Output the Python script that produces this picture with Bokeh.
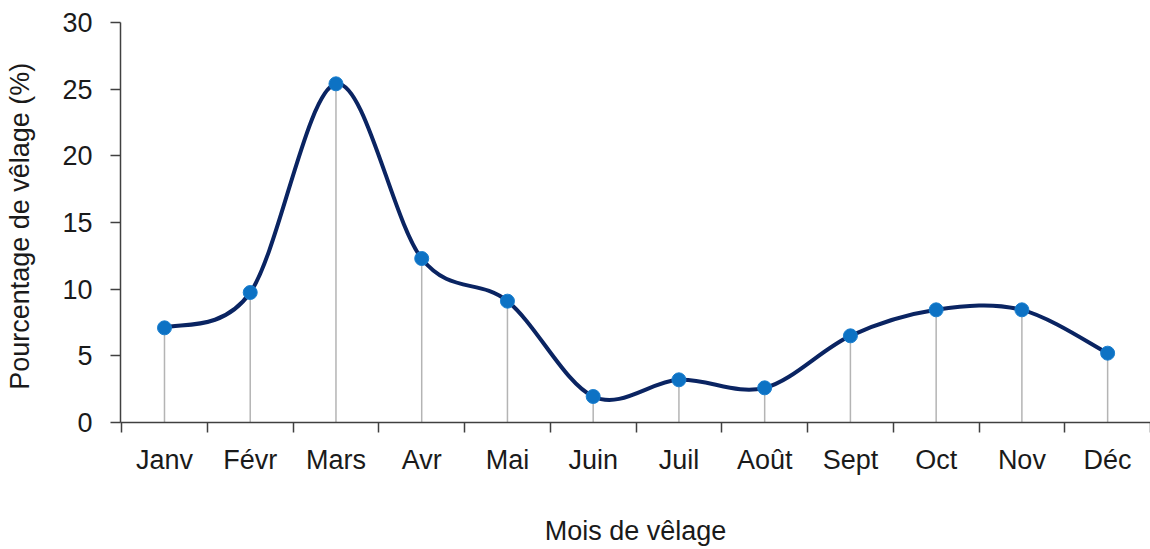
from bokeh.plotting import figure
from bokeh.models import FixedTicker, ColumnDataSource, Range1d
from bokeh.embed import file_html
from bokeh.resources import INLINE

months = ["Janv", "Févr", "Mars", "Avr", "Mai", "Juin", "Juil", "Août", "Sept", "Oct", "Nov", "Déc"]
values = [7.1, 9.75, 25.4, 12.3, 9.1, 1.95, 3.2, 2.6, 6.5, 8.45, 8.45, 5.2]
y_ticks = [0, 5, 10, 15, 20, 25, 30]

FONT = "Liberation Sans"
FS = "27px"
n = len(months)
xs = list(range(n))

# Excel-like smoothed line: cubic Bezier segments (Catmull-Rom control points)
def pt(i):
    i = max(0, min(n - 1, i))
    return xs[i], values[i]

seg = dict(x0=[], y0=[], x1=[], y1=[], cx0=[], cy0=[], cx1=[], cy1=[])
for i in range(n - 1):
    xa, ya = pt(i - 1)
    xb, yb = pt(i)
    xc, yc = pt(i + 1)
    xd, yd = pt(i + 2)
    seg["x0"].append(xb); seg["y0"].append(yb)
    seg["x1"].append(xc); seg["y1"].append(yc)
    seg["cx0"].append(xb + (xc - xa) / 6); seg["cy0"].append(yb + (yc - ya) / 6)
    seg["cx1"].append(xc - (xd - xb) / 6); seg["cy1"].append(yc - (yd - yb) / 6)

p = figure(frame_width=1030, frame_height=400, output_backend="svg", toolbar_location=None,
           x_range=Range1d(-0.513, 11.5), y_range=Range1d(0, 30),
           min_border_left=120, min_border_top=22, min_border_right=0, min_border_bottom=120)
p.outline_line_color = None
p.grid.visible = False
p.background_fill_color = "white"
p.border_fill_color = "white"

src = ColumnDataSource(dict(x=xs, y=values, zero=[0] * n))
p.segment(x0="x", y0="zero", x1="x", y1="y", source=src, line_color="#b4b4b4", line_width=1.5)
p.bezier(source=ColumnDataSource(seg), x0="x0", y0="y0", x1="x1", y1="y1",
         cx0="cx0", cy0="cy0", cx1="cx1", cy1="cy1", line_color="#0a2462", line_width=4)
p.scatter("x", "y", source=src, size=14, fill_color="#0d72c4", line_color="#1a7fcf", line_width=1)

# x axis: labels at category centres, tick marks between categories
xa_ = p.xaxis[0]
xa_.ticker = FixedTicker(ticks=xs, minor_ticks=[i - 0.5 for i in range(n + 1)])
xa_.major_label_overrides = {i: m for i, m in enumerate(months)}
xa_.major_tick_out = 0
xa_.major_tick_in = 0
xa_.minor_tick_out = 10
xa_.minor_tick_in = 0
xa_.minor_tick_line_color = "#404040"
xa_.minor_tick_line_width = 1.5
xa_.axis_line_color = "#404040"
xa_.axis_line_width = 1.5
xa_.major_label_standoff = 12
xa_.major_label_text_font = FONT
xa_.major_label_text_font_size = FS
xa_.major_label_text_color = "#1a1a1a"
xa_.axis_label = "Mois de vêlage"
xa_.axis_label_text_font = FONT
xa_.axis_label_text_font_size = FS
xa_.axis_label_text_font_style = "normal"
xa_.axis_label_text_color = "#1a1a1a"
xa_.axis_label_standoff = 38

ya_ = p.yaxis[0]
ya_.ticker = FixedTicker(ticks=y_ticks, minor_ticks=[])
ya_.major_tick_out = 10
ya_.major_tick_in = 0
ya_.major_tick_line_color = "#404040"
ya_.major_tick_line_width = 1.5
ya_.axis_line_color = "#404040"
ya_.axis_line_width = 1.5
ya_.major_label_standoff = 18
ya_.major_label_text_font = FONT
ya_.major_label_text_font_size = FS
ya_.major_label_text_color = "#1a1a1a"
ya_.axis_label = "Pourcentage de vêlage  (%)"
ya_.axis_label_text_font = FONT
ya_.axis_label_text_font_size = FS
ya_.axis_label_text_font_style = "normal"
ya_.axis_label_text_color = "#1a1a1a"
ya_.axis_label_standoff = 24

open("out.html", "w").write(file_html(p, INLINE))
